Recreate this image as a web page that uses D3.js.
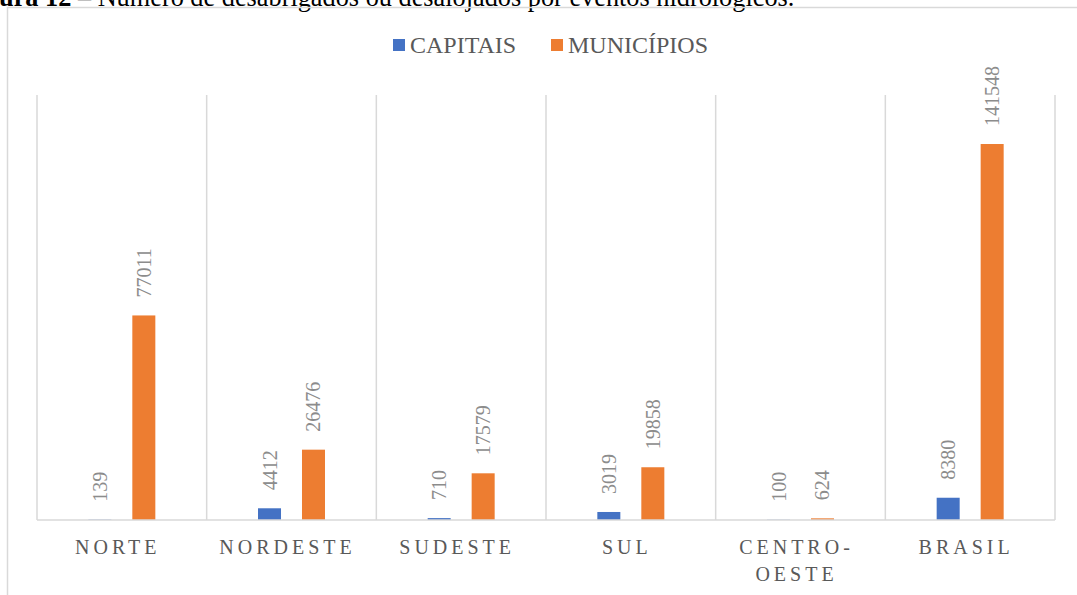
<!DOCTYPE html>
<html>
<head>
<meta charset="utf-8">
<script src="https://cdn.jsdelivr.net/npm/d3@7/dist/d3.min.js"></script>
<style>
  body { margin: 0; background: #fff; }
</style>
</head>
<body>
<div id="vis-svg"></div>
<script>
// data
var regions = ["NORTE", "NORDESTE", "SUDESTE", "SUL", "CENTRO-|OESTE", "BRASIL"];
var series = ["CAPITAIS", "MUNICÍPIOS"];
var capitais = [139, 4412, 710, 3019, 100, 8380];
var municipios = [77011, 26476, 17579, 19858, 624, 141548];
var colors = ["#4472c4", "#ed7d31"];

var serif = "'Liberation Serif', 'Times New Roman', serif";
var width = 1077;
var height = 595;

var svg = d3
.select("#vis-svg")
.append("svg")
.attr("width", width)
.attr("height", height)
.attr("font-family", serif);

// caption, cut off at the top of the page like in the source
var cap = svg.append("text")
.attr("x", -1)
.attr("y", 6)
.attr("font-family", serif)
.style("font-size", "26.3px")
.attr("fill", "#000");
cap.append("tspan").style("font-weight", "bold").text("ura 12");
cap.append("tspan").text(" – Número de desabrigados ou desalojados por eventos hidrológicos.");

// chart frame
svg.append("rect")
.attr("x", 7.5)
.attr("y", 7.5)
.attr("width", width + 20)
.attr("height", height + 20)
.attr("fill", "none")
.attr("stroke", "#d9d9d9")
.attr("stroke-width", 1.5);

var x0 = d3.scaleBand()
.domain(regions)
.range([37, 1055]);

var x1 = d3.scaleBand()
.domain(series)
.range([0, x0.bandwidth()])
.paddingInner(0.477)
.paddingOuter(1.167);

var y = d3.scaleLinear()
.domain([0, 160000])
.range([520, 95]);

// vertical gridlines at category borders
var borders = regions.map(function (r) { return x0(r); }).concat([x0.range()[1]]);
svg.append("g")
.selectAll("line")
.data(borders)
.enter()
.append("line")
.attr("x1", function (d) { return d; })
.attr("x2", function (d) { return d; })
.attr("y1", y.range()[1])
.attr("y2", y(0))
.attr("stroke", "#d9d9d9")
.attr("stroke-width", 1.5);

var rows = regions.map(function (r, i) {
  return { region: r, values: [capitais[i], municipios[i]] };
});

function cells(d) {
  return d.values.map(function (v, k) { return { s: series[k], v: v, k: k }; });
}

var groups = svg.append("g")
.selectAll("g")
.data(rows)
.enter()
.append("g")
.attr("transform", function (d) { return "translate(" + x0(d.region) + ",0)"; });

groups.selectAll("rect")
.data(cells)
.enter()
.append("rect")
.attr("x", function (d) { return x1(d.s); })
.attr("width", x1.bandwidth())
.attr("y", function (d) { return y(d.v); })
.attr("height", function (d) { return y(0) - y(d.v); })
.attr("fill", function (d) { return colors[d.k]; });

groups.selectAll("text")
.data(cells)
.enter()
.append("text")
.attr("transform", function (d) {
  return "translate(" + (x1(d.s) + x1.bandwidth() / 2) + "," + (y(d.v) - 18) + ") rotate(-90)";
})
.attr("dy", "0.35em")
.attr("font-family", serif)
.style("font-size", "20px")
.attr("fill", "#8c8c8c")
.text(function (d) { return d.v; });

// x axis line
svg.append("line")
.attr("x1", x0.range()[0])
.attr("x2", x0.range()[1])
.attr("y1", y(0))
.attr("y2", y(0))
.attr("stroke", "#d9d9d9")
.attr("stroke-width", 1.5);

// category labels
var labels = svg.append("g")
.selectAll("text")
.data(regions)
.enter()
.append("text")
.attr("x", function (d) { return x0(d) + x0.bandwidth() / 2 - 4; })
.attr("y", 554)
.attr("text-anchor", "middle")
.attr("font-family", serif)
.style("font-size", "20px")
.style("letter-spacing", "4px")
.attr("fill", "#595959");

labels.each(function (d) {
  var parts = d.split("|");
  var t = d3.select(this);
  parts.forEach(function (p, i) {
    t.append("tspan")
    .attr("x", t.attr("x"))
    .attr("dy", i === 0 ? 0 : 27)
    .text(p);
  });
});

// legend
var legendX = [393, 551];
var legend = svg.append("g")
.selectAll("g")
.data(series)
.enter()
.append("g")
.attr("transform", function (d, i) { return "translate(" + legendX[i] + ",39)"; });

legend.append("rect")
.attr("width", 12)
.attr("height", 12)
.attr("fill", function (d, i) { return colors[i]; });

legend.append("text")
.attr("x", 17)
.attr("y", 14)
.attr("font-family", serif)
.style("font-size", "24px")
.attr("fill", "#595959")
.text(function (d) { return d; });
</script>
</body>
</html>
